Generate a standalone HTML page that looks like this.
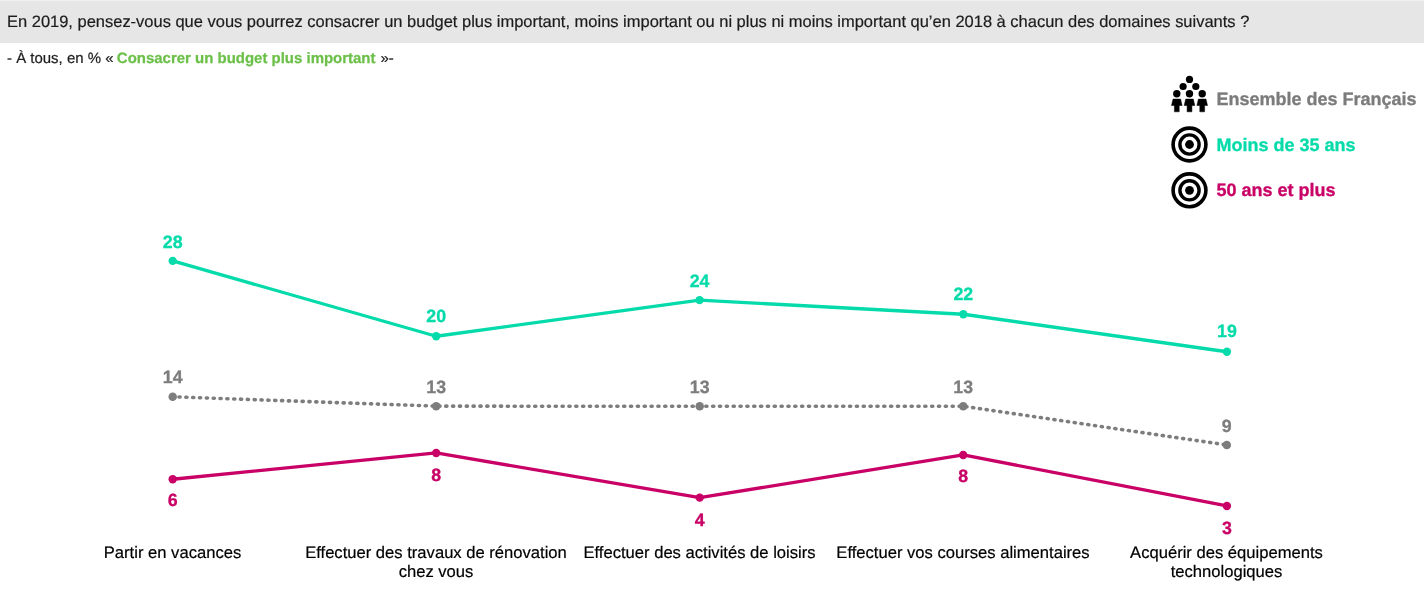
<!DOCTYPE html>
<html lang="fr"><head><meta charset="utf-8"><title>Budget 2019</title>
<style>
html,body{margin:0;padding:0;background:#fff;}
body{width:1424px;height:598px;overflow:hidden;position:relative;font-family:"Liberation Sans",sans-serif;}
#q{position:absolute;left:0;top:0;width:1424px;height:43px;background:#e6e6e6;}
#qt{position:absolute;left:0;top:0;width:1424px;height:1px;background:#f0f0f0;}
svg{position:absolute;left:0;top:0;}
svg text{font-family:"Liberation Sans",sans-serif;text-rendering:geometricPrecision;}
.q{font-size:16.48px;fill:#1c1c1c;stroke:#1c1c1c;stroke-width:0.2px;}
.s{font-size:14.98px;fill:#1c1c1c;stroke:#1c1c1c;stroke-width:0.2px;}
.sb{font-weight:bold;fill:#6cc04a;stroke:#6cc04a;stroke-width:0.25px;}
.dl text{font-size:17.8px;font-weight:bold;text-anchor:middle;stroke-width:0.3px;}
.cat text{font-size:16.6px;fill:#000;text-anchor:middle;stroke:#000;stroke-width:0.2px;}
.lg text{font-size:18px;font-weight:bold;stroke-width:0.3px;}
</style></head><body>
<div id="q"></div><div id="qt"></div>
<svg width="1424" height="598" viewBox="0 0 1424 598">
<text class="q" x="7" y="27.4">En 2019, pensez-vous que vous pourrez consacrer un budget plus important, moins important ou ni plus ni moins important qu’en 2018 à chacun des domaines suivants ?</text>
<text class="s" x="7" y="62.9">- À tous, en % « <tspan class="sb" dx="-0.8">Consacrer un budget plus important</tspan><tspan dx="0.8"> »-</tspan></text>
<g class="lg">
<g fill="#000"><circle cx="1189.5" cy="79.4" r="3.6"/><circle cx="1183.1" cy="86.5" r="3.6"/><circle cx="1195.8" cy="86.5" r="3.6"/><circle cx="1176.8" cy="93.7" r="3.7"/><path d="M1173.00,99.10 L1180.60,99.10 L1182.10,105.50 L1179.20,105.50 L1179.20,111.80 L1174.40,111.80 L1174.40,105.50 L1171.50,105.50 Z" stroke="#000" stroke-width="0.5" stroke-linejoin="round"/><circle cx="1189.5" cy="93.7" r="3.7"/><path d="M1185.70,99.10 L1193.30,99.10 L1194.80,105.50 L1191.90,105.50 L1191.90,111.80 L1187.10,111.80 L1187.10,105.50 L1184.20,105.50 Z" stroke="#000" stroke-width="0.5" stroke-linejoin="round"/><circle cx="1202.2" cy="93.7" r="3.7"/><path d="M1198.40,99.10 L1206.00,99.10 L1207.50,105.50 L1204.60,105.50 L1204.60,111.80 L1199.80,111.80 L1199.80,105.50 L1196.90,105.50 Z" stroke="#000" stroke-width="0.5" stroke-linejoin="round"/></g>
<circle cx="1189.5" cy="144.5" r="16.4" fill="none" stroke="#000" stroke-width="3.6"/><circle cx="1189.5" cy="144.5" r="9.6" fill="none" stroke="#000" stroke-width="3.4"/><circle cx="1189.5" cy="144.5" r="4.4" fill="#000"/>
<circle cx="1189.5" cy="190.3" r="16.4" fill="none" stroke="#000" stroke-width="3.6"/><circle cx="1189.5" cy="190.3" r="9.6" fill="none" stroke="#000" stroke-width="3.4"/><circle cx="1189.5" cy="190.3" r="4.4" fill="#000"/>
<text x="1216.5" y="105.0" fill="#7b7b7b" stroke="#7b7b7b">Ensemble des Français</text>
<text x="1216.5" y="151" fill="#05dbaa" stroke="#05dbaa">Moins de 35 ans</text>
<text x="1216.5" y="196" fill="#c90066" stroke="#c90066">50 ans et plus</text>
</g>
<polyline points="172.7,396.75 436.2,406.15 699.7,406.25 963.2,406.25 1226.8,444.95" fill="none" stroke="#7d7d7d" stroke-width="3.6" stroke-linecap="round" stroke-dasharray="1.1 5.744" stroke-dashoffset="0.55"/>
<polyline points="172.7,260.85 436.2,336.25 699.6,300.15 963.3,314.25 1226.9,351.75" fill="none" stroke="#05dbaa" stroke-width="3.3" stroke-linejoin="round"/>
<polyline points="172.7,479.25 436.2,452.95 699.7,497.65 963.2,454.95 1226.9,505.95" fill="none" stroke="#c90066" stroke-width="3.3" stroke-linejoin="round"/>
<circle cx="172.7" cy="396.75" r="4.25" fill="#7d7d7d"/><circle cx="436.2" cy="406.15" r="4.25" fill="#7d7d7d"/><circle cx="699.7" cy="406.25" r="4.25" fill="#7d7d7d"/><circle cx="963.2" cy="406.25" r="4.25" fill="#7d7d7d"/><circle cx="1226.8" cy="444.95" r="4.25" fill="#7d7d7d"/><circle cx="172.7" cy="260.85" r="4.2" fill="#05dbaa"/><circle cx="436.2" cy="336.25" r="4.2" fill="#05dbaa"/><circle cx="699.6" cy="300.15" r="4.2" fill="#05dbaa"/><circle cx="963.3" cy="314.25" r="4.2" fill="#05dbaa"/><circle cx="1226.9" cy="351.75" r="4.2" fill="#05dbaa"/><circle cx="172.7" cy="479.25" r="4.2" fill="#c90066"/><circle cx="436.2" cy="452.95" r="4.2" fill="#c90066"/><circle cx="699.7" cy="497.65" r="4.2" fill="#c90066"/><circle cx="963.2" cy="454.95" r="4.2" fill="#c90066"/><circle cx="1226.9" cy="505.95" r="4.2" fill="#c90066"/>
<g class="dl">
<text x="172.7" y="248" fill="#05dbaa" stroke="#05dbaa">28</text><text x="436.2" y="322" fill="#05dbaa" stroke="#05dbaa">20</text><text x="699.6" y="287" fill="#05dbaa" stroke="#05dbaa">24</text><text x="963.3" y="300" fill="#05dbaa" stroke="#05dbaa">22</text><text x="1226.9" y="337" fill="#05dbaa" stroke="#05dbaa">19</text>
<text x="172.7" y="383" fill="#7d7d7d" stroke="#7d7d7d">14</text><text x="436.2" y="393" fill="#7d7d7d" stroke="#7d7d7d">13</text><text x="699.7" y="393" fill="#7d7d7d" stroke="#7d7d7d">13</text><text x="963.2" y="393" fill="#7d7d7d" stroke="#7d7d7d">13</text><text x="1226.8" y="432" fill="#7d7d7d" stroke="#7d7d7d">9</text>
<text x="172.7" y="506" fill="#c90066" stroke="#c90066">6</text><text x="436.2" y="481" fill="#c90066" stroke="#c90066">8</text><text x="699.7" y="526" fill="#c90066" stroke="#c90066">4</text><text x="963.2" y="482" fill="#c90066" stroke="#c90066">8</text><text x="1226.9" y="534" fill="#c90066" stroke="#c90066">3</text>
</g>
<g class="cat"><text x="172.5" y="557.8">Partir en vacances</text><text x="436" y="557.8">Effectuer des travaux de rénovation</text><text x="436" y="577.0">chez vous</text><text x="699.5" y="557.8">Effectuer des activités de loisirs</text><text x="963" y="557.8">Effectuer vos courses alimentaires</text><text x="1226.5" y="557.8">Acquérir des équipements</text><text x="1226.5" y="577.0">technologiques</text></g>
</svg>
</body></html>
